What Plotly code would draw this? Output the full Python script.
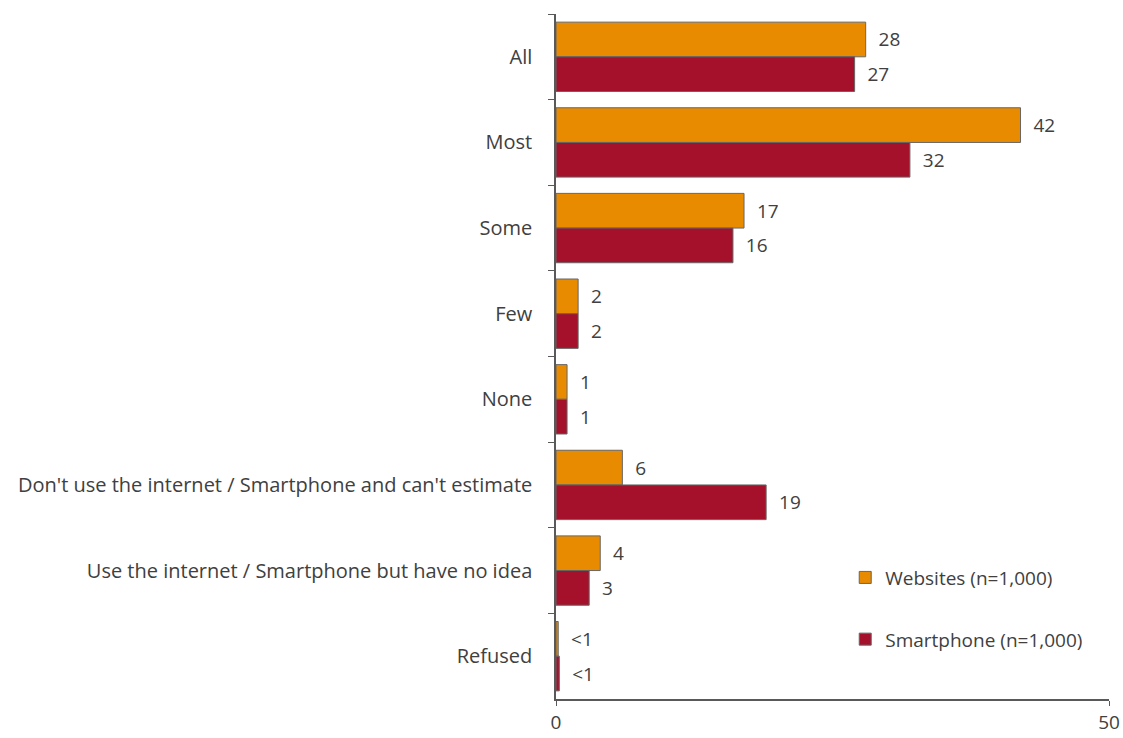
import plotly.graph_objects as go

# Survey responses, top to bottom
categories = [
    "All",
    "Most",
    "Some",
    "Few",
    "None",
    "Don't use the internet / Smartphone and can't estimate",
    "Use the internet / Smartphone but have no idea",
    "Refused",
]
websites = [28, 42, 17, 2, 1, 6, 4, 0.2]
smartphone = [27, 32, 16, 2, 1, 19, 3, 0.3]
websites_labels = ["28", "42", "17", "2", "1", "6", "4", "<1"]
smartphone_labels = ["27", "32", "16", "2", "1", "19", "3", "<1"]
x_ticks = [0, 50]

FONT = "Open Sans"
SIZE = 20
TEXT_COLOR = "#404040"
AXIS_COLOR = "#595959"
PAD = "\u00a0\u00a0"  # gap between bar end and its value label

fig = go.Figure()
fig.add_trace(go.Bar(
    y=categories, x=websites, orientation="h",
    name="Websites (n=1,000)", legendgroup="w",
    marker=dict(color="#E98B00", line=dict(color="#666666", width=1)),
    text=[PAD + t for t in websites_labels], textposition="outside",
    cliponaxis=False,
    textfont=dict(family=FONT, size=19, color=TEXT_COLOR),
))
fig.add_trace(go.Bar(
    y=categories, x=smartphone, orientation="h",
    name="Smartphone (n=1,000)", legendgroup="s",
    marker=dict(color="#A5102B", line=dict(color="#666666", width=1)),
    text=[PAD + t for t in smartphone_labels], textposition="outside",
    cliponaxis=False,
    textfont=dict(family=FONT, size=19, color=TEXT_COLOR),
))

fig.update_layout(
    width=1123, height=738,
    margin=dict(l=556, r=14, t=14, b=39, autoexpand=False),
    paper_bgcolor="white", plot_bgcolor="white",
    barmode="group", bargap=0.19, bargroupgap=0,
    font=dict(family=FONT, size=SIZE, color=TEXT_COLOR),
    legend=dict(
        x=0.523, y=0.205, xanchor="left", yanchor="top",
        traceorder="grouped", tracegroupgap=34,
        font=dict(family=FONT, size=19, color=TEXT_COLOR),
        itemwidth=30, bgcolor="rgba(0,0,0,0)",
    ),
    uniformtext=dict(mode=False),
)
fig.update_yaxes(
    type="category", categoryorder="array", categoryarray=categories,
    autorange="reversed", automargin=False,
    showline=True, linecolor=AXIS_COLOR, linewidth=1.5,
    ticks="outside", tickson="boundaries", ticklen=6, tickcolor=AXIS_COLOR,
    ticklabelstandoff=18,
    showgrid=False, zeroline=False,
)
fig.update_xaxes(
    range=[0, 50], tickvals=x_ticks, ticktext=[str(v) for v in x_ticks],
    automargin=False,
    showline=True, linecolor=AXIS_COLOR, linewidth=1.5,
    ticks="outside", ticklen=5, tickcolor=AXIS_COLOR,
    tickfont=dict(family=FONT, size=19, color=TEXT_COLOR),
    showgrid=False, zeroline=False,
)

fig.write_html("out.html")
